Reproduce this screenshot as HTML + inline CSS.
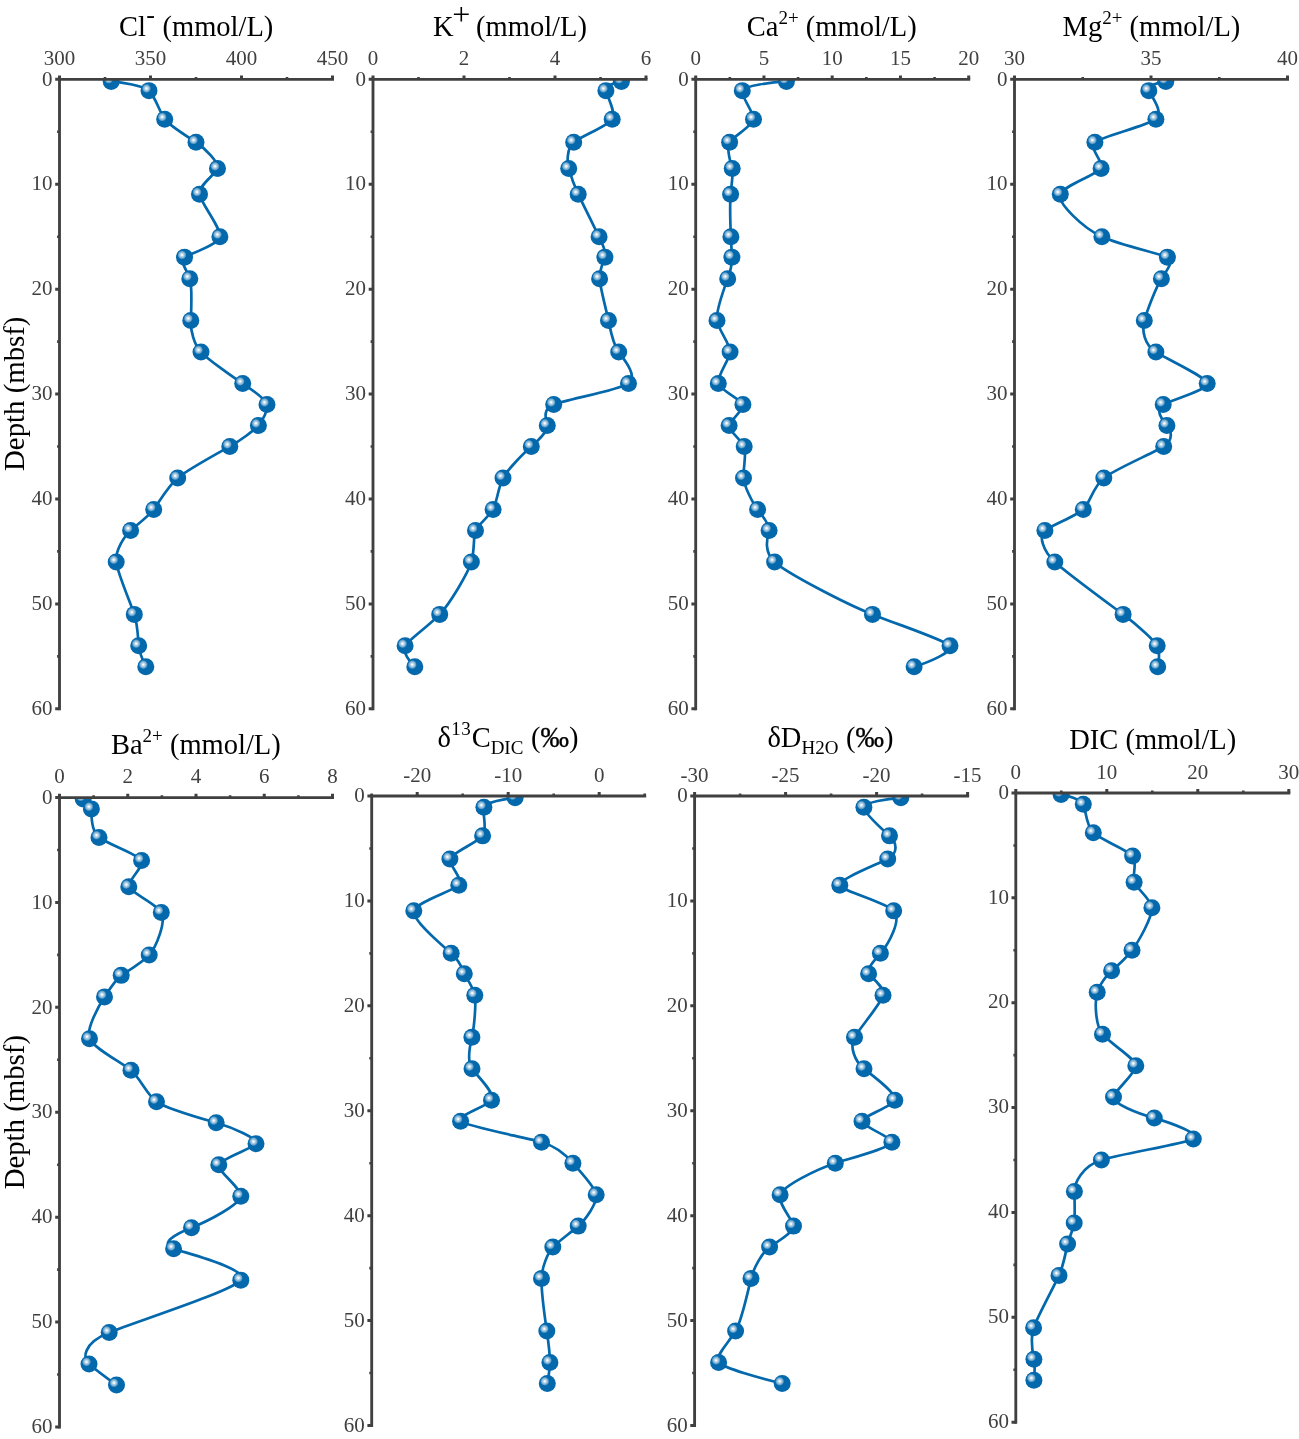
<!DOCTYPE html>
<html lang="en"><head><meta charset="utf-8"><title>Pore water depth profiles</title>
<style>html,body{margin:0;padding:0;background:#fff}svg{display:block}text{font-family:"Liberation Serif",serif}.tk{font-size:21px;fill:#404040}.tt{font-size:28.5px;fill:#000}</style></head><body>
<svg width="1299" height="1439" viewBox="0 0 1299 1439">
<defs><radialGradient id="hl" cx="0.5" cy="0.5" r="0.5"><stop offset="0" stop-color="#fff" stop-opacity="1"/><stop offset="0.14" stop-color="#fff" stop-opacity="0.95"/><stop offset="0.38" stop-color="#fff" stop-opacity="0.7"/><stop offset="0.7" stop-color="#fff" stop-opacity="0.45"/><stop offset="0.9" stop-color="#fff" stop-opacity="0.15"/><stop offset="1" stop-color="#fff" stop-opacity="0"/></radialGradient>
<g id="b"><circle r="8.5" fill="#0368ac"/><circle cx="-2.5" cy="-2.2" r="4.6" fill="url(#hl)"/></g>
<clipPath id="c0"><rect x="59.5" y="79.3" width="293" height="649.5"/></clipPath>
<clipPath id="c1"><rect x="373" y="79.3" width="293" height="649.5"/></clipPath>
<clipPath id="c2"><rect x="695.7" y="79.3" width="293" height="649.5"/></clipPath>
<clipPath id="c3"><rect x="1014.5" y="79.3" width="293" height="649.5"/></clipPath>
<clipPath id="c4"><rect x="59.5" y="797.55" width="293" height="649.45"/></clipPath>
<clipPath id="c5"><rect x="371.7" y="796" width="293" height="649.45"/></clipPath>
<clipPath id="c6"><rect x="694.6" y="796" width="293" height="649.45"/></clipPath>
<clipPath id="c7"><rect x="1015.8" y="793" width="293" height="649.2"/></clipPath>
</defs>
<rect width="1299" height="1439" fill="#fff"/>
<g>
<g clip-path="url(#c0)">
<path d="M111.2 81.4C121.94 82.26 143.26 85.7 149 90.63C154.74 95.56 159.87 112.56 164.7 119.17C169.53 125.78 187.23 136.45 196 142.25C204.77 148.05 219.39 162.78 217.5 168.48C215.61 174.18 198.19 185.4 199.5 194.18C200.81 202.96 221.51 228.39 219.9 236.68C218.29 244.96 190.18 253.71 184.5 257.13C178.82 260.56 187.15 270.4 189.8 278.64C192.45 286.88 191.2 311.3 190.8 320.61C190.4 329.92 194 344.68 201 352.08C208 359.49 232.94 377.15 242.7 383.56C252.46 389.96 265.54 399.8 267 404.54C268.46 409.29 262.71 420.7 258.4 425.53C254.09 430.35 240.79 440.34 229.8 446.51C218.81 452.68 187.51 469.72 177.7 477.98C167.89 486.25 158.24 503.37 153.7 509.46C149.16 515.55 136.53 525.29 130.6 530.44C124.67 535.59 114.95 550.84 116.2 561.92C117.45 573 130.72 603.41 134.3 614.38C137.88 625.34 138.09 640.35 138.7 645.85C139.31 651.35 143.55 662.03 145.8 666.83" fill="none" stroke="#0368ac" stroke-width="2.7" stroke-linejoin="round" stroke-linecap="round"/>
<use href="#b" x="111.2" y="81.4"/>
<use href="#b" x="149" y="90.63"/>
<use href="#b" x="164.7" y="119.17"/>
<use href="#b" x="196" y="142.25"/>
<use href="#b" x="217.5" y="168.48"/>
<use href="#b" x="199.5" y="194.18"/>
<use href="#b" x="219.9" y="236.68"/>
<use href="#b" x="184.5" y="257.13"/>
<use href="#b" x="189.8" y="278.64"/>
<use href="#b" x="190.8" y="320.61"/>
<use href="#b" x="201" y="352.08"/>
<use href="#b" x="242.7" y="383.56"/>
<use href="#b" x="267" y="404.54"/>
<use href="#b" x="258.4" y="425.53"/>
<use href="#b" x="229.8" y="446.51"/>
<use href="#b" x="177.7" y="477.98"/>
<use href="#b" x="153.7" y="509.46"/>
<use href="#b" x="130.6" y="530.44"/>
<use href="#b" x="116.2" y="561.92"/>
<use href="#b" x="134.3" y="614.38"/>
<use href="#b" x="138.7" y="645.85"/>
<use href="#b" x="145.8" y="666.83"/>
</g>
<path d="M58 79.3H334M59.5 77.8V710.3" stroke="#404040" stroke-width="2.85" fill="none"/>
<path d="M59.5 79.3V75.4M150.5 79.3V75.4M241.5 79.3V75.4M332.5 79.3V75.4M59.5 79.3H55.2M59.5 184.22H55.2M59.5 289.13H55.2M59.5 394.05H55.2M59.5 498.97H55.2M59.5 603.88H55.2M59.5 708.8H55.2" stroke="#404040" stroke-width="3" fill="none"/>
<path d="M105 79.3V76.9M196 79.3V76.9M287 79.3V76.9M59.5 131.76H57.1M59.5 236.68H57.1M59.5 341.59H57.1M59.5 446.51H57.1M59.5 551.42H57.1M59.5 656.34H57.1" stroke="#404040" stroke-width="2.6" fill="none"/>
<text class="tk" transform="translate(59.5 65.1) scale(1 1.045)" text-anchor="middle">300</text>
<text class="tk" transform="translate(150.5 65.1) scale(1 1.045)" text-anchor="middle">350</text>
<text class="tk" transform="translate(241.5 65.1) scale(1 1.045)" text-anchor="middle">400</text>
<text class="tk" transform="translate(332.5 65.1) scale(1 1.045)" text-anchor="middle">450</text>
<text class="tk" transform="translate(52.6 85.5) scale(1 1.045)" text-anchor="end">0</text>
<text class="tk" transform="translate(52.6 190.42) scale(1 1.045)" text-anchor="end">10</text>
<text class="tk" transform="translate(52.6 295.33) scale(1 1.045)" text-anchor="end">20</text>
<text class="tk" transform="translate(52.6 400.25) scale(1 1.045)" text-anchor="end">30</text>
<text class="tk" transform="translate(52.6 505.17) scale(1 1.045)" text-anchor="end">40</text>
<text class="tk" transform="translate(52.6 610.08) scale(1 1.045)" text-anchor="end">50</text>
<text class="tk" transform="translate(52.6 715) scale(1 1.045)" text-anchor="end">60</text>
<text class="tt" x="118.9" y="35.7">Cl<tspan font-size="26" dx="0.3" dy="-12.6">-</tspan><tspan dx="0.6" dy="12.6"> (mmol/L)</tspan></text>
</g>
<g>
<g clip-path="url(#c1)">
<path d="M621.4 81.4C615.36 82.26 604.99 85.7 605.9 90.63C606.81 95.56 616.43 112.56 612.2 119.17C607.97 125.78 580.87 136.45 573.7 142.25C566.53 148.05 567.11 162.78 568.7 168.48C570.29 174.18 574.14 185.4 578.2 194.18C582.26 202.96 595.05 228.39 599.1 236.68C603.15 244.96 605.93 253.71 604.9 257.13C603.87 260.56 599.18 270.4 599.6 278.64C600.02 286.88 606.57 311.3 608.5 320.61C610.43 329.92 613.07 344.68 618.7 352.08C624.33 359.49 638.53 377.15 628.5 383.56C618.47 389.96 566.02 399.8 553.7 404.54C541.38 409.29 546.47 420.7 547.3 425.53C548.13 430.35 538.41 440.34 531.3 446.51C524.19 452.68 507.27 469.72 503 477.98C498.73 486.25 496.42 503.37 493.1 509.46C489.78 515.55 477.75 525.29 475.5 530.44C473.25 535.59 474.7 550.84 471.4 561.92C468.1 573 450.02 603.41 439.7 614.38C429.38 625.34 408.27 640.35 405.1 645.85C401.93 651.35 409.72 662.03 414.8 666.83" fill="none" stroke="#0368ac" stroke-width="2.7" stroke-linejoin="round" stroke-linecap="round"/>
<use href="#b" x="621.4" y="81.4"/>
<use href="#b" x="605.9" y="90.63"/>
<use href="#b" x="612.2" y="119.17"/>
<use href="#b" x="573.7" y="142.25"/>
<use href="#b" x="568.7" y="168.48"/>
<use href="#b" x="578.2" y="194.18"/>
<use href="#b" x="599.1" y="236.68"/>
<use href="#b" x="604.9" y="257.13"/>
<use href="#b" x="599.6" y="278.64"/>
<use href="#b" x="608.5" y="320.61"/>
<use href="#b" x="618.7" y="352.08"/>
<use href="#b" x="628.5" y="383.56"/>
<use href="#b" x="553.7" y="404.54"/>
<use href="#b" x="547.3" y="425.53"/>
<use href="#b" x="531.3" y="446.51"/>
<use href="#b" x="503" y="477.98"/>
<use href="#b" x="493.1" y="509.46"/>
<use href="#b" x="475.5" y="530.44"/>
<use href="#b" x="471.4" y="561.92"/>
<use href="#b" x="439.7" y="614.38"/>
<use href="#b" x="405.1" y="645.85"/>
<use href="#b" x="414.8" y="666.83"/>
</g>
<path d="M371.5 79.3H647.5M373 77.8V710.3" stroke="#404040" stroke-width="2.85" fill="none"/>
<path d="M373 79.3V75.4M464 79.3V75.4M555 79.3V75.4M646 79.3V75.4M373 79.3H368.7M373 184.22H368.7M373 289.13H368.7M373 394.05H368.7M373 498.97H368.7M373 603.88H368.7M373 708.8H368.7" stroke="#404040" stroke-width="3" fill="none"/>
<path d="M418.5 79.3V76.9M509.5 79.3V76.9M600.5 79.3V76.9M373 131.76H370.6M373 236.68H370.6M373 341.59H370.6M373 446.51H370.6M373 551.42H370.6M373 656.34H370.6" stroke="#404040" stroke-width="2.6" fill="none"/>
<text class="tk" transform="translate(373 65.1) scale(1 1.045)" text-anchor="middle">0</text>
<text class="tk" transform="translate(464 65.1) scale(1 1.045)" text-anchor="middle">2</text>
<text class="tk" transform="translate(555 65.1) scale(1 1.045)" text-anchor="middle">4</text>
<text class="tk" transform="translate(646 65.1) scale(1 1.045)" text-anchor="middle">6</text>
<text class="tk" transform="translate(366.1 85.5) scale(1 1.045)" text-anchor="end">0</text>
<text class="tk" transform="translate(366.1 190.42) scale(1 1.045)" text-anchor="end">10</text>
<text class="tk" transform="translate(366.1 295.33) scale(1 1.045)" text-anchor="end">20</text>
<text class="tk" transform="translate(366.1 400.25) scale(1 1.045)" text-anchor="end">30</text>
<text class="tk" transform="translate(366.1 505.17) scale(1 1.045)" text-anchor="end">40</text>
<text class="tk" transform="translate(366.1 610.08) scale(1 1.045)" text-anchor="end">50</text>
<text class="tk" transform="translate(366.1 715) scale(1 1.045)" text-anchor="end">60</text>
<text class="tt" x="433.1" y="35.7">K<tspan font-size="32" dx="-1.4" dy="-10.6">+</tspan><tspan dx="-1.4" dy="10.6"> (mmol/L)</tspan></text>
</g>
<g>
<g clip-path="url(#c2)">
<path d="M786.4 81.4C771.53 82.26 744.31 85.7 742.3 90.63C740.29 95.56 754.29 112.56 753.5 119.17C752.71 125.78 733.57 136.45 729.6 142.25C725.63 148.05 730.86 162.78 732.2 168.48C733.54 174.18 731.26 185.4 730.6 194.18C729.94 202.96 730.52 228.39 730.9 236.68C731.28 244.96 731.81 253.71 731.9 257.13C731.99 260.56 730.74 270.4 727.7 278.64C724.66 286.88 715.65 311.3 717 320.61C718.35 329.92 730.71 344.68 730.1 352.08C729.49 359.49 716.25 377.15 718.3 383.56C720.35 389.96 741.26 399.8 742.9 404.54C744.54 409.29 729.94 420.7 729.1 425.53C728.26 430.35 741.54 440.34 744.2 446.51C746.86 452.68 742.94 469.72 743.5 477.98C744.06 486.25 752.85 503.37 757.6 509.46C762.35 515.55 770.24 525.29 769.1 530.44C767.96 535.59 762.57 550.84 774.6 561.92C786.63 573 845.04 603.41 872.5 614.38C899.96 625.34 945.6 640.35 950 645.85C954.4 651.35 929.23 662.03 914.1 666.83" fill="none" stroke="#0368ac" stroke-width="2.7" stroke-linejoin="round" stroke-linecap="round"/>
<use href="#b" x="786.4" y="81.4"/>
<use href="#b" x="742.3" y="90.63"/>
<use href="#b" x="753.5" y="119.17"/>
<use href="#b" x="729.6" y="142.25"/>
<use href="#b" x="732.2" y="168.48"/>
<use href="#b" x="730.6" y="194.18"/>
<use href="#b" x="730.9" y="236.68"/>
<use href="#b" x="731.9" y="257.13"/>
<use href="#b" x="727.7" y="278.64"/>
<use href="#b" x="717" y="320.61"/>
<use href="#b" x="730.1" y="352.08"/>
<use href="#b" x="718.3" y="383.56"/>
<use href="#b" x="742.9" y="404.54"/>
<use href="#b" x="729.1" y="425.53"/>
<use href="#b" x="744.2" y="446.51"/>
<use href="#b" x="743.5" y="477.98"/>
<use href="#b" x="757.6" y="509.46"/>
<use href="#b" x="769.1" y="530.44"/>
<use href="#b" x="774.6" y="561.92"/>
<use href="#b" x="872.5" y="614.38"/>
<use href="#b" x="950" y="645.85"/>
<use href="#b" x="914.1" y="666.83"/>
</g>
<path d="M694.2 79.3H970.2M695.7 77.8V710.3" stroke="#404040" stroke-width="2.85" fill="none"/>
<path d="M695.7 79.3V75.4M763.95 79.3V75.4M832.2 79.3V75.4M900.45 79.3V75.4M968.7 79.3V75.4M695.7 79.3H691.4M695.7 184.22H691.4M695.7 289.13H691.4M695.7 394.05H691.4M695.7 498.97H691.4M695.7 603.88H691.4M695.7 708.8H691.4" stroke="#404040" stroke-width="3" fill="none"/>
<path d="M729.83 79.3V76.9M798.08 79.3V76.9M866.33 79.3V76.9M934.58 79.3V76.9M695.7 131.76H693.3M695.7 236.68H693.3M695.7 341.59H693.3M695.7 446.51H693.3M695.7 551.42H693.3M695.7 656.34H693.3" stroke="#404040" stroke-width="2.6" fill="none"/>
<text class="tk" transform="translate(695.7 65.1) scale(1 1.045)" text-anchor="middle">0</text>
<text class="tk" transform="translate(763.95 65.1) scale(1 1.045)" text-anchor="middle">5</text>
<text class="tk" transform="translate(832.2 65.1) scale(1 1.045)" text-anchor="middle">10</text>
<text class="tk" transform="translate(900.45 65.1) scale(1 1.045)" text-anchor="middle">15</text>
<text class="tk" transform="translate(968.7 65.1) scale(1 1.045)" text-anchor="middle">20</text>
<text class="tk" transform="translate(688.8 85.5) scale(1 1.045)" text-anchor="end">0</text>
<text class="tk" transform="translate(688.8 190.42) scale(1 1.045)" text-anchor="end">10</text>
<text class="tk" transform="translate(688.8 295.33) scale(1 1.045)" text-anchor="end">20</text>
<text class="tk" transform="translate(688.8 400.25) scale(1 1.045)" text-anchor="end">30</text>
<text class="tk" transform="translate(688.8 505.17) scale(1 1.045)" text-anchor="end">40</text>
<text class="tk" transform="translate(688.8 610.08) scale(1 1.045)" text-anchor="end">50</text>
<text class="tk" transform="translate(688.8 715) scale(1 1.045)" text-anchor="end">60</text>
<text class="tt" x="746.8" y="35.7">Ca<tspan font-size="19" dy="-11.9">2+</tspan><tspan dy="11.9"> (mmol/L)</tspan></text>
</g>
<g>
<g clip-path="url(#c3)">
<path d="M1165.8 81.4C1158.6 82.26 1146.65 85.7 1148.8 90.63C1150.95 95.56 1164.43 112.56 1155.9 119.17C1147.37 125.78 1101.72 136.45 1094.9 142.25C1088.08 148.05 1104.74 162.78 1101.1 168.48C1097.46 174.18 1063.82 185.4 1060.3 194.18C1056.78 202.96 1083.61 228.39 1101.9 236.68C1120.19 244.96 1159.92 253.71 1167.4 257.13C1174.88 260.56 1166.78 270.4 1161.4 278.64C1156.02 286.88 1146.91 311.3 1144.3 320.61C1141.69 329.92 1144.05 344.68 1155.9 352.08C1167.75 359.49 1206.71 377.15 1207.2 383.56C1207.69 389.96 1171.75 399.8 1163.2 404.54C1154.65 409.29 1162.19 420.7 1166.9 425.53C1171.61 430.35 1173.64 440.34 1163.7 446.51C1153.76 452.68 1114.2 469.72 1103.8 477.98C1093.4 486.25 1089.67 503.37 1083.3 509.46C1076.93 515.55 1051.45 525.29 1044.9 530.44C1038.35 535.59 1042.76 550.84 1054.8 561.92C1066.84 573 1108.39 603.41 1123.1 614.38C1137.81 625.34 1154.34 640.35 1157.2 645.85C1160.06 651.35 1158.95 662.03 1157.7 666.83" fill="none" stroke="#0368ac" stroke-width="2.7" stroke-linejoin="round" stroke-linecap="round"/>
<use href="#b" x="1165.8" y="81.4"/>
<use href="#b" x="1148.8" y="90.63"/>
<use href="#b" x="1155.9" y="119.17"/>
<use href="#b" x="1094.9" y="142.25"/>
<use href="#b" x="1101.1" y="168.48"/>
<use href="#b" x="1060.3" y="194.18"/>
<use href="#b" x="1101.9" y="236.68"/>
<use href="#b" x="1167.4" y="257.13"/>
<use href="#b" x="1161.4" y="278.64"/>
<use href="#b" x="1144.3" y="320.61"/>
<use href="#b" x="1155.9" y="352.08"/>
<use href="#b" x="1207.2" y="383.56"/>
<use href="#b" x="1163.2" y="404.54"/>
<use href="#b" x="1166.9" y="425.53"/>
<use href="#b" x="1163.7" y="446.51"/>
<use href="#b" x="1103.8" y="477.98"/>
<use href="#b" x="1083.3" y="509.46"/>
<use href="#b" x="1044.9" y="530.44"/>
<use href="#b" x="1054.8" y="561.92"/>
<use href="#b" x="1123.1" y="614.38"/>
<use href="#b" x="1157.2" y="645.85"/>
<use href="#b" x="1157.7" y="666.83"/>
</g>
<path d="M1013 79.3H1289M1014.5 77.8V710.3" stroke="#404040" stroke-width="2.85" fill="none"/>
<path d="M1014.5 79.3V75.4M1151 79.3V75.4M1287.5 79.3V75.4M1014.5 79.3H1010.2M1014.5 184.22H1010.2M1014.5 289.13H1010.2M1014.5 394.05H1010.2M1014.5 498.97H1010.2M1014.5 603.88H1010.2M1014.5 708.8H1010.2" stroke="#404040" stroke-width="3" fill="none"/>
<path d="M1082.75 79.3V76.9M1219.25 79.3V76.9M1014.5 131.76H1012.1M1014.5 236.68H1012.1M1014.5 341.59H1012.1M1014.5 446.51H1012.1M1014.5 551.42H1012.1M1014.5 656.34H1012.1" stroke="#404040" stroke-width="2.6" fill="none"/>
<text class="tk" transform="translate(1014.5 65.1) scale(1 1.045)" text-anchor="middle">30</text>
<text class="tk" transform="translate(1151 65.1) scale(1 1.045)" text-anchor="middle">35</text>
<text class="tk" transform="translate(1287.5 65.1) scale(1 1.045)" text-anchor="middle">40</text>
<text class="tk" transform="translate(1007.6 85.5) scale(1 1.045)" text-anchor="end">0</text>
<text class="tk" transform="translate(1007.6 190.42) scale(1 1.045)" text-anchor="end">10</text>
<text class="tk" transform="translate(1007.6 295.33) scale(1 1.045)" text-anchor="end">20</text>
<text class="tk" transform="translate(1007.6 400.25) scale(1 1.045)" text-anchor="end">30</text>
<text class="tk" transform="translate(1007.6 505.17) scale(1 1.045)" text-anchor="end">40</text>
<text class="tk" transform="translate(1007.6 610.08) scale(1 1.045)" text-anchor="end">50</text>
<text class="tk" transform="translate(1007.6 715) scale(1 1.045)" text-anchor="end">60</text>
<text class="tt" x="1062.6" y="35.7">Mg<tspan font-size="19" dy="-11.9">2+</tspan><tspan dy="11.9"> (mmol/L)</tspan></text>
</g>
<g>
<g clip-path="url(#c4)">
<path d="M83.2 799.02C86.13 800.07 91.37 803.88 91.4 808.88C91.43 813.88 90.7 830.83 99 837.42C107.3 844 138.7 854.69 141.6 860.5C144.5 866.3 127.26 881.02 128.8 886.72C130.34 892.42 156.19 903.65 161.3 912.42C166.41 921.2 156.48 946.63 149.2 954.91C141.92 963.19 126.06 971.95 121.2 975.37C116.34 978.79 109.97 988.63 104.5 996.88C99.03 1005.12 85.57 1029.53 89.5 1038.84C93.43 1048.15 122.18 1062.91 131 1070.31C139.82 1077.71 147.48 1095.38 156.5 1101.78C165.52 1108.19 199.75 1118.02 216.2 1122.77C232.65 1127.51 259.19 1138.92 256 1143.75C252.81 1148.57 220.6 1158.56 218.8 1164.73C217 1170.9 241.34 1187.94 240.8 1196.2C240.26 1204.47 207.2 1221.59 191.5 1227.67C175.8 1233.76 158.64 1243.51 173.6 1248.66C188.56 1253.81 249.45 1269.05 240.8 1280.13C232.15 1291.21 135.94 1321.62 109.2 1332.58C82.46 1343.54 82.69 1358.55 89 1364.06C95.31 1369.56 109.76 1380.23 116.5 1385.04" fill="none" stroke="#0368ac" stroke-width="2.7" stroke-linejoin="round" stroke-linecap="round"/>
<use href="#b" x="83.2" y="799.02"/>
<use href="#b" x="91.4" y="808.88"/>
<use href="#b" x="99" y="837.42"/>
<use href="#b" x="141.6" y="860.5"/>
<use href="#b" x="128.8" y="886.72"/>
<use href="#b" x="161.3" y="912.42"/>
<use href="#b" x="149.2" y="954.91"/>
<use href="#b" x="121.2" y="975.37"/>
<use href="#b" x="104.5" y="996.88"/>
<use href="#b" x="89.5" y="1038.84"/>
<use href="#b" x="131" y="1070.31"/>
<use href="#b" x="156.5" y="1101.78"/>
<use href="#b" x="216.2" y="1122.77"/>
<use href="#b" x="256" y="1143.75"/>
<use href="#b" x="218.8" y="1164.73"/>
<use href="#b" x="240.8" y="1196.2"/>
<use href="#b" x="191.5" y="1227.67"/>
<use href="#b" x="173.6" y="1248.66"/>
<use href="#b" x="240.8" y="1280.13"/>
<use href="#b" x="109.2" y="1332.58"/>
<use href="#b" x="89" y="1364.06"/>
<use href="#b" x="116.5" y="1385.04"/>
</g>
<path d="M58 797.55H334M59.5 796.05V1428.5" stroke="#404040" stroke-width="2.85" fill="none"/>
<path d="M59.5 797.55V793.65M127.75 797.55V793.65M196 797.55V793.65M264.25 797.55V793.65M332.5 797.55V793.65M59.5 797.55H55.2M59.5 902.46H55.2M59.5 1007.37H55.2M59.5 1112.28H55.2M59.5 1217.18H55.2M59.5 1322.09H55.2M59.5 1427H55.2" stroke="#404040" stroke-width="3" fill="none"/>
<path d="M93.62 797.55V795.15M161.88 797.55V795.15M230.12 797.55V795.15M298.38 797.55V795.15M59.5 850H57.1M59.5 954.91H57.1M59.5 1059.82H57.1M59.5 1164.73H57.1M59.5 1269.64H57.1M59.5 1374.55H57.1" stroke="#404040" stroke-width="2.6" fill="none"/>
<text class="tk" transform="translate(59.5 783.25) scale(1 1.045)" text-anchor="middle">0</text>
<text class="tk" transform="translate(127.75 783.25) scale(1 1.045)" text-anchor="middle">2</text>
<text class="tk" transform="translate(196 783.25) scale(1 1.045)" text-anchor="middle">4</text>
<text class="tk" transform="translate(264.25 783.25) scale(1 1.045)" text-anchor="middle">6</text>
<text class="tk" transform="translate(332.5 783.25) scale(1 1.045)" text-anchor="middle">8</text>
<text class="tk" transform="translate(52.6 803.75) scale(1 1.045)" text-anchor="end">0</text>
<text class="tk" transform="translate(52.6 908.66) scale(1 1.045)" text-anchor="end">10</text>
<text class="tk" transform="translate(52.6 1013.57) scale(1 1.045)" text-anchor="end">20</text>
<text class="tk" transform="translate(52.6 1118.48) scale(1 1.045)" text-anchor="end">30</text>
<text class="tk" transform="translate(52.6 1223.38) scale(1 1.045)" text-anchor="end">40</text>
<text class="tk" transform="translate(52.6 1328.29) scale(1 1.045)" text-anchor="end">50</text>
<text class="tk" transform="translate(52.6 1433.2) scale(1 1.045)" text-anchor="end">60</text>
<text class="tt" x="110.9" y="753.6">Ba<tspan font-size="19" dy="-11.9">2+</tspan><tspan dy="11.9"> (mmol/L)</tspan></text>
</g>
<g>
<g clip-path="url(#c5)">
<path d="M515.1 797.78C504.86 798.74 485.88 802.36 483.9 807.33C481.92 812.3 487.82 829.27 482.6 835.87C477.38 842.46 451.5 853.15 449.9 858.95C448.3 864.74 464.32 879.47 458.8 885.17C453.28 890.87 416.11 902.1 413.8 910.87C411.49 919.65 441.92 945.08 451.2 953.36C460.48 961.64 462.76 970.4 464.3 973.82C465.84 977.24 473.27 987.08 474.8 995.33C476.33 1003.57 474.11 1027.98 471.9 1037.29C469.69 1046.6 466.71 1061.36 472 1068.76C477.29 1076.16 496.33 1093.83 491.5 1100.23C486.67 1106.64 454.76 1116.47 460.6 1121.22C466.44 1125.96 524.03 1137.37 541.5 1142.2C558.97 1147.02 567.78 1157.01 572.9 1163.18C578.02 1169.35 594.79 1186.39 596.2 1194.65C597.61 1202.92 585.17 1220.04 578.2 1226.12C571.23 1232.21 557.59 1241.96 552.8 1247.11C548.01 1252.26 541.78 1267.5 541.5 1278.58C541.22 1289.66 545.2 1320.07 546.8 1331.03C548.4 1341.99 549.99 1357 549.9 1362.51C549.81 1368.01 548.19 1378.68 547.3 1383.49" fill="none" stroke="#0368ac" stroke-width="2.7" stroke-linejoin="round" stroke-linecap="round"/>
<use href="#b" x="515.1" y="797.78"/>
<use href="#b" x="483.9" y="807.33"/>
<use href="#b" x="482.6" y="835.87"/>
<use href="#b" x="449.9" y="858.95"/>
<use href="#b" x="458.8" y="885.17"/>
<use href="#b" x="413.8" y="910.87"/>
<use href="#b" x="451.2" y="953.36"/>
<use href="#b" x="464.3" y="973.82"/>
<use href="#b" x="474.8" y="995.33"/>
<use href="#b" x="471.9" y="1037.29"/>
<use href="#b" x="472" y="1068.76"/>
<use href="#b" x="491.5" y="1100.23"/>
<use href="#b" x="460.6" y="1121.22"/>
<use href="#b" x="541.5" y="1142.2"/>
<use href="#b" x="572.9" y="1163.18"/>
<use href="#b" x="596.2" y="1194.65"/>
<use href="#b" x="578.2" y="1226.12"/>
<use href="#b" x="552.8" y="1247.11"/>
<use href="#b" x="541.5" y="1278.58"/>
<use href="#b" x="546.8" y="1331.03"/>
<use href="#b" x="549.9" y="1362.51"/>
<use href="#b" x="547.3" y="1383.49"/>
</g>
<path d="M370.2 796H646.2M371.7 794.5V1426.95" stroke="#404040" stroke-width="2.85" fill="none"/>
<path d="M417.2 796V792.1M508.2 796V792.1M599.2 796V792.1M371.7 796H367.4M371.7 900.91H367.4M371.7 1005.82H367.4M371.7 1110.72H367.4M371.7 1215.63H367.4M371.7 1320.54H367.4M371.7 1425.45H367.4" stroke="#404040" stroke-width="3" fill="none"/>
<path d="M371.7 796V793.6M462.7 796V793.6M553.7 796V793.6M644.7 796V793.6M371.7 848.45H369.3M371.7 953.36H369.3M371.7 1058.27H369.3M371.7 1163.18H369.3M371.7 1268.09H369.3M371.7 1373H369.3" stroke="#404040" stroke-width="2.6" fill="none"/>
<text class="tk" transform="translate(417.2 781.7) scale(1 1.045)" text-anchor="middle">-20</text>
<text class="tk" transform="translate(508.2 781.7) scale(1 1.045)" text-anchor="middle">-10</text>
<text class="tk" transform="translate(599.2 781.7) scale(1 1.045)" text-anchor="middle">0</text>
<text class="tk" transform="translate(364.8 802.2) scale(1 1.045)" text-anchor="end">0</text>
<text class="tk" transform="translate(364.8 907.11) scale(1 1.045)" text-anchor="end">10</text>
<text class="tk" transform="translate(364.8 1012.02) scale(1 1.045)" text-anchor="end">20</text>
<text class="tk" transform="translate(364.8 1116.92) scale(1 1.045)" text-anchor="end">30</text>
<text class="tk" transform="translate(364.8 1221.83) scale(1 1.045)" text-anchor="end">40</text>
<text class="tk" transform="translate(364.8 1326.74) scale(1 1.045)" text-anchor="end">50</text>
<text class="tk" transform="translate(364.8 1431.65) scale(1 1.045)" text-anchor="end">60</text>
<text class="tt" x="437.6" y="746.7">δ<tspan font-size="19" dy="-11.9" dx="0.3" letter-spacing="0.5">13</tspan><tspan dy="11.9" dx="0.3">C</tspan><tspan font-size="19" dy="7.2">DIC</tspan><tspan dy="-7.2" dx="0.6"> (<tspan stroke="#000" stroke-width="0.3">‰</tspan>)</tspan></text>
</g>
<g>
<g clip-path="url(#c6)">
<path d="M900.8 797.78C887.81 798.74 864.49 802.36 863.9 807.33C863.31 812.3 882.27 829.27 889.5 835.87C896.73 842.46 898.87 853.15 887.7 858.95C876.53 864.74 838.11 879.47 839.8 885.17C841.49 890.87 884.96 902.1 893.7 910.87C902.44 919.65 887.8 945.08 880.4 953.36C873 961.64 865.8 970.4 868.6 973.82C871.4 977.24 884.93 987.08 883 995.33C881.07 1003.57 859.75 1027.98 854.5 1037.29C849.25 1046.6 854.76 1061.36 864 1068.76C873.24 1076.16 897.51 1093.83 894.8 1100.23C892.09 1106.64 861.85 1116.47 862 1121.22C862.15 1125.96 891.89 1137.37 891.9 1142.2C891.91 1147.02 854.72 1157.01 835.3 1163.18C815.88 1169.35 782.92 1186.39 780.1 1194.65C777.28 1202.92 792.91 1220.04 793.5 1226.12C794.09 1232.21 776.71 1241.96 769.6 1247.11C762.49 1252.26 753.75 1267.5 751 1278.58C748.25 1289.66 741.96 1320.07 735.6 1331.03C729.24 1341.99 713.74 1357 718.6 1362.51C723.46 1368.01 761.73 1378.68 782.2 1383.49" fill="none" stroke="#0368ac" stroke-width="2.7" stroke-linejoin="round" stroke-linecap="round"/>
<use href="#b" x="900.8" y="797.78"/>
<use href="#b" x="863.9" y="807.33"/>
<use href="#b" x="889.5" y="835.87"/>
<use href="#b" x="887.7" y="858.95"/>
<use href="#b" x="839.8" y="885.17"/>
<use href="#b" x="893.7" y="910.87"/>
<use href="#b" x="880.4" y="953.36"/>
<use href="#b" x="868.6" y="973.82"/>
<use href="#b" x="883" y="995.33"/>
<use href="#b" x="854.5" y="1037.29"/>
<use href="#b" x="864" y="1068.76"/>
<use href="#b" x="894.8" y="1100.23"/>
<use href="#b" x="862" y="1121.22"/>
<use href="#b" x="891.9" y="1142.2"/>
<use href="#b" x="835.3" y="1163.18"/>
<use href="#b" x="780.1" y="1194.65"/>
<use href="#b" x="793.5" y="1226.12"/>
<use href="#b" x="769.6" y="1247.11"/>
<use href="#b" x="751" y="1278.58"/>
<use href="#b" x="735.6" y="1331.03"/>
<use href="#b" x="718.6" y="1362.51"/>
<use href="#b" x="782.2" y="1383.49"/>
</g>
<path d="M693.1 796H969.1M694.6 794.5V1426.95" stroke="#404040" stroke-width="2.85" fill="none"/>
<path d="M694.6 796V792.1M785.6 796V792.1M876.6 796V792.1M967.6 796V792.1M694.6 796H690.3M694.6 900.91H690.3M694.6 1005.82H690.3M694.6 1110.72H690.3M694.6 1215.63H690.3M694.6 1320.54H690.3M694.6 1425.45H690.3" stroke="#404040" stroke-width="3" fill="none"/>
<path d="M740.1 796V793.6M831.1 796V793.6M922.1 796V793.6M694.6 848.45H692.2M694.6 953.36H692.2M694.6 1058.27H692.2M694.6 1163.18H692.2M694.6 1268.09H692.2M694.6 1373H692.2" stroke="#404040" stroke-width="2.6" fill="none"/>
<text class="tk" transform="translate(694.6 781.7) scale(1 1.045)" text-anchor="middle">-30</text>
<text class="tk" transform="translate(785.6 781.7) scale(1 1.045)" text-anchor="middle">-25</text>
<text class="tk" transform="translate(876.6 781.7) scale(1 1.045)" text-anchor="middle">-20</text>
<text class="tk" transform="translate(967.6 781.7) scale(1 1.045)" text-anchor="middle">-15</text>
<text class="tk" transform="translate(687.7 802.2) scale(1 1.045)" text-anchor="end">0</text>
<text class="tk" transform="translate(687.7 907.11) scale(1 1.045)" text-anchor="end">10</text>
<text class="tk" transform="translate(687.7 1012.02) scale(1 1.045)" text-anchor="end">20</text>
<text class="tk" transform="translate(687.7 1116.92) scale(1 1.045)" text-anchor="end">30</text>
<text class="tk" transform="translate(687.7 1221.83) scale(1 1.045)" text-anchor="end">40</text>
<text class="tk" transform="translate(687.7 1326.74) scale(1 1.045)" text-anchor="end">50</text>
<text class="tk" transform="translate(687.7 1431.65) scale(1 1.045)" text-anchor="end">60</text>
<text class="tt" x="767.4" y="746.6">δD<tspan font-size="19" dy="7.2">H2O</tspan><tspan dy="-7.2" dx="0.6"> (<tspan stroke="#000" stroke-width="0.3">‰</tspan>)</tspan></text>
</g>
<g>
<g clip-path="url(#c7)">
<path d="M1061.1 794.57C1067.92 795.59 1080.96 799.34 1083.3 804.33C1085.64 809.31 1086.28 826.26 1093.3 832.85C1100.32 839.44 1127.52 850.12 1132.6 855.92C1137.68 861.72 1132.08 876.44 1134.1 882.14C1136.12 887.84 1151.18 899.05 1151.9 907.83C1152.62 916.6 1138.43 942.02 1132 950.3C1125.57 958.58 1115.63 967.33 1111.6 970.75C1107.57 974.17 1099.7 984.01 1097.2 992.25C1094.7 1000.49 1095.01 1024.89 1102.5 1034.19C1109.99 1043.5 1135.45 1058.25 1135.8 1065.65C1136.15 1073.05 1114.47 1090.71 1113.5 1097.11C1112.53 1103.52 1137.46 1113.34 1154.3 1118.09C1171.14 1122.83 1202.23 1134.24 1193.3 1139.06C1184.37 1143.88 1120.6 1153.87 1101.4 1160.03C1082.2 1166.2 1074.26 1183.23 1074.4 1191.49C1074.54 1199.76 1075.14 1216.87 1074.2 1222.95C1073.26 1229.04 1068.87 1238.78 1067.6 1243.93C1066.33 1249.07 1063.91 1264.31 1059 1275.39C1054.09 1286.46 1037.16 1316.86 1033.6 1327.82C1030.04 1338.78 1032.82 1353.78 1033.9 1359.28C1034.98 1364.78 1034.44 1375.45 1033.9 1380.25" fill="none" stroke="#0368ac" stroke-width="2.7" stroke-linejoin="round" stroke-linecap="round"/>
<use href="#b" x="1061.1" y="794.57"/>
<use href="#b" x="1083.3" y="804.33"/>
<use href="#b" x="1093.3" y="832.85"/>
<use href="#b" x="1132.6" y="855.92"/>
<use href="#b" x="1134.1" y="882.14"/>
<use href="#b" x="1151.9" y="907.83"/>
<use href="#b" x="1132" y="950.3"/>
<use href="#b" x="1111.6" y="970.75"/>
<use href="#b" x="1097.2" y="992.25"/>
<use href="#b" x="1102.5" y="1034.19"/>
<use href="#b" x="1135.8" y="1065.65"/>
<use href="#b" x="1113.5" y="1097.11"/>
<use href="#b" x="1154.3" y="1118.09"/>
<use href="#b" x="1193.3" y="1139.06"/>
<use href="#b" x="1101.4" y="1160.03"/>
<use href="#b" x="1074.4" y="1191.49"/>
<use href="#b" x="1074.2" y="1222.95"/>
<use href="#b" x="1067.6" y="1243.93"/>
<use href="#b" x="1059" y="1275.39"/>
<use href="#b" x="1033.6" y="1327.82"/>
<use href="#b" x="1033.9" y="1359.28"/>
<use href="#b" x="1033.9" y="1380.25"/>
</g>
<path d="M1014.3 793H1290.3M1015.8 791.5V1423.7" stroke="#404040" stroke-width="2.85" fill="none"/>
<path d="M1015.8 793V789.1M1106.8 793V789.1M1197.8 793V789.1M1288.8 793V789.1M1015.8 793H1011.5M1015.8 897.87H1011.5M1015.8 1002.73H1011.5M1015.8 1107.6H1011.5M1015.8 1212.47H1011.5M1015.8 1317.33H1011.5M1015.8 1422.2H1011.5" stroke="#404040" stroke-width="3" fill="none"/>
<path d="M1061.3 793V790.6M1152.3 793V790.6M1243.3 793V790.6M1015.8 845.43H1013.4M1015.8 950.3H1013.4M1015.8 1055.17H1013.4M1015.8 1160.03H1013.4M1015.8 1264.9H1013.4M1015.8 1369.77H1013.4" stroke="#404040" stroke-width="2.6" fill="none"/>
<text class="tk" transform="translate(1015.8 778.6) scale(1 1.045)" text-anchor="middle">0</text>
<text class="tk" transform="translate(1106.8 778.6) scale(1 1.045)" text-anchor="middle">10</text>
<text class="tk" transform="translate(1197.8 778.6) scale(1 1.045)" text-anchor="middle">20</text>
<text class="tk" transform="translate(1288.8 778.6) scale(1 1.045)" text-anchor="middle">30</text>
<text class="tk" transform="translate(1008.9 798.7) scale(1 1.045)" text-anchor="end">0</text>
<text class="tk" transform="translate(1008.9 903.57) scale(1 1.045)" text-anchor="end">10</text>
<text class="tk" transform="translate(1008.9 1008.43) scale(1 1.045)" text-anchor="end">20</text>
<text class="tk" transform="translate(1008.9 1113.3) scale(1 1.045)" text-anchor="end">30</text>
<text class="tk" transform="translate(1008.9 1218.17) scale(1 1.045)" text-anchor="end">40</text>
<text class="tk" transform="translate(1008.9 1323.03) scale(1 1.045)" text-anchor="end">50</text>
<text class="tk" transform="translate(1008.9 1427.9) scale(1 1.045)" text-anchor="end">60</text>
<text class="tt" x="1069.2" y="749.3">DIC (mmol/L)</text>
</g>
<text class="tt" style="font-size:28.8px" transform="translate(23.75 393.75) rotate(-90)" text-anchor="middle">Depth (mbsf)</text>
<text class="tt" style="font-size:28.8px" transform="translate(23.75 1112.2) rotate(-90)" text-anchor="middle">Depth (mbsf)</text>
</svg></body></html>
